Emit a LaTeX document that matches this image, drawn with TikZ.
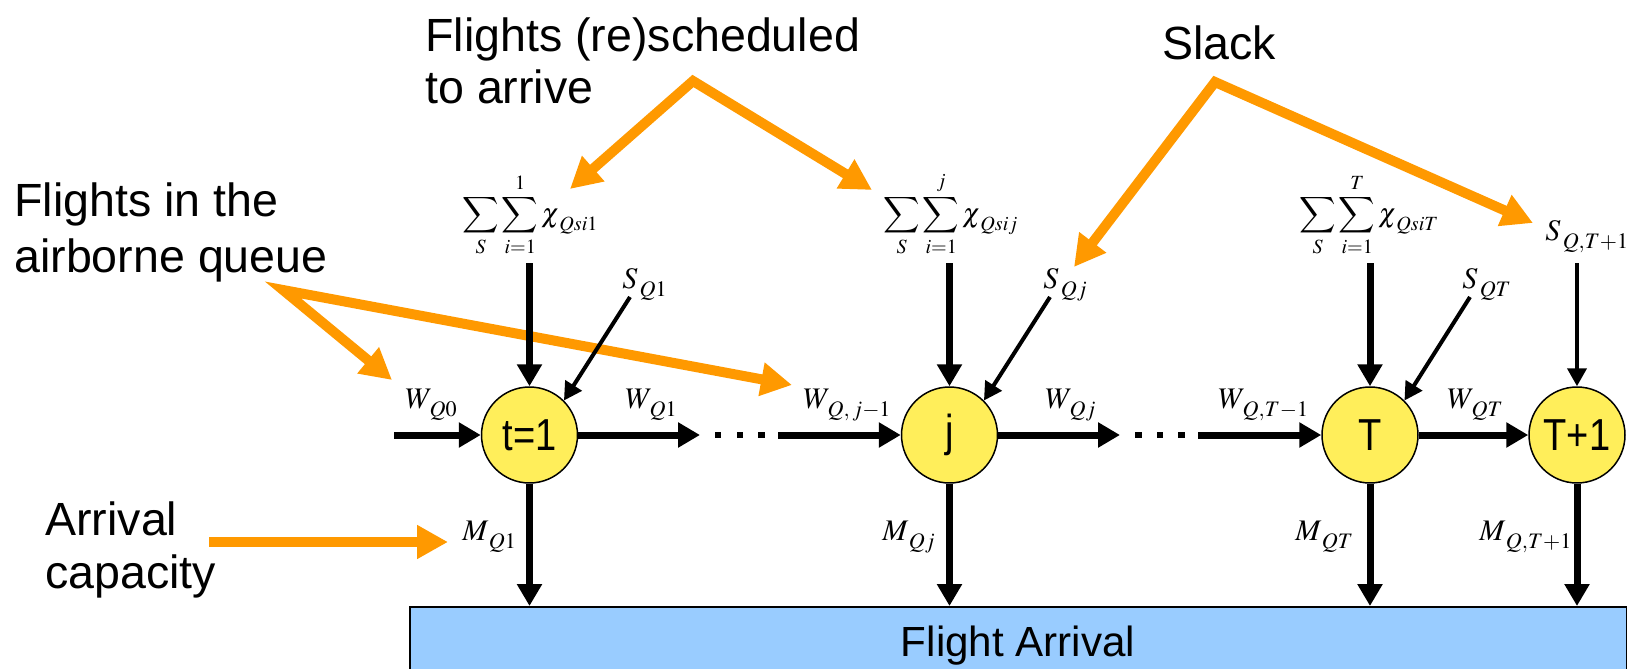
\documentclass[tikz,border=0pt]{standalone}
\usepackage{mathptmx}
\usepackage{exscale}
\usepackage[no-math]{fontspec}
\newfontfamily\arial{Liberation Sans}
\newfontfamily\arialn[FakeStretch=0.85]{Liberation Sans}
\usetikzlibrary{arrows.meta,calc}
\definecolor{orng}{HTML}{FF9900}
\definecolor{ylw}{HTML}{FFEE5A}
\definecolor{lblue}{HTML}{99CCFF}
\newcommand\lsb[1]{_{\mkern2mu\raisebox{-2.5pt}{$\scriptstyle #1$}}}
\begin{document}
\begin{tikzpicture}[x=0.02cm,y=-0.02cm,
  lbl/.style={font=\arial\fontsize{26.5}{30}\selectfont, inner sep=0pt, align=left, anchor=base west},
  mth/.style={font=\fontsize{17}{20}\selectfont, inner sep=0pt, anchor=base west},
  summ/.style={font=\fontsize{15.5}{18}\selectfont, inner sep=0pt, anchor=base west},
  period/.style={circle, draw=black, line width=0.03cm, fill=ylw, minimum size=1.92cm, inner sep=0pt, font=\arialn\fontsize{25.5}{30}\selectfont},
  fat/.style={line width=0.14cm, -{Triangle[length=0.44cm,width=0.48cm]}},
  slim/.style={line width=0.08cm, -{Triangle[length=0.36cm,width=0.38cm]}},
  orarrow/.style={orng, line width=0.2cm, -{Triangle[length=0.62cm,width=0.64cm]}},
  orboth/.style={orng, line width=0.2cm, line join=miter, {Triangle[length=0.62cm,width=0.64cm]}-{Triangle[length=0.62cm,width=0.64cm]}},
  dotsq/.style={fill=black},
  arrbox/.style={draw=black, line width=0.03cm, fill=lblue, anchor=north west, minimum width=24.34cm, minimum height=1.36cm, inner sep=0pt, text depth=0pt, font=\arial\fontsize{24}{28}\selectfont}
]
\useasboundingbox (0,0) rectangle (1627,669);
\clip (0,0) rectangle (1627,669);

% period nodes
\node[period] (c1) at (529.5,435) {t=1};
\node[period] (cj) at (949.5,435) {j};
\node[period] (cT) at (1370,435) {T};
\node[period] (cT1) at (1577,435) {T+1};

% flight arrival box
\node[arrbox] (box) at (409,606) {Flight Arrival};

% orange annotation arrows (drawn below black arrows)
\coordinate (ra) at (693,81);  \coordinate (rl) at (570,189); \coordinate (rr) at (872,190);
\coordinate (sa) at (1215,82); \coordinate (sl) at (1074,267); \coordinate (sr) at (1533,223);
\coordinate (qa) at (283,290); \coordinate (ql) at (392,380); \coordinate (qr) at (792,385);
\coordinate (ca) at (209,542); \coordinate (cb) at (448,542);
\draw[orboth] (rl) -- (ra) -- (rr);
\draw[orboth] (sl) -- (sa) -- (sr);
\draw[orboth] (ql) -- (qa) -- (qr);
\draw[orarrow] (ca) -- (cb);

% text labels (anchor = baseline of last line)
\node[lbl] (resched) at (425,104) {Flights (re)scheduled\\to arrive};
\node[lbl] (slack) at (1162,60) {Slack};
\node[lbl, font=\arial\fontsize{26.5}{31.5}\selectfont] (airq) at (14,272) {Flights in the\\airborne queue};
\node[lbl] (cap) at (45,588) {Arrival\\capacity};

% sums
\node[summ] (sum1) at (462,222) {$\displaystyle\sum_{S}\sum_{i=1}^{1}\chi\lsb{Qsi1}$};
\node[summ] (sumj) at (883,222) {$\displaystyle\sum_{S}\sum_{i=1}^{j}\chi\lsb{Qsij}$};
\node[summ] (sumT) at (1299,222) {$\displaystyle\sum_{S}\sum_{i=1}^{T}\chi\lsb{QsiT}$};

% slack labels
\node[mth] (s1) at (622,288) {$S\lsb{Q1}$};
\node[mth] (sj) at (1043,288) {$S\lsb{Qj}$};
\node[mth] (sT) at (1462,288) {$S\lsb{QT}$};
\node[mth] (sT1) at (1545,240) {$S\lsb{Q,T+1}$};

% queue labels
\node[mth] (w0) at (405,408) {$W\lsb{Q0}$};
\node[mth] (w1) at (625,408) {$W\lsb{Q1}$};
\node[mth] (wjm) at (803,408) {$W\lsb{Q,\,j-1}$};
\node[mth] (wj) at (1045,408) {$W\lsb{Qj}$};
\node[mth] (wTm) at (1218,408) {$W\lsb{Q,T-1}$};
\node[mth] (wT) at (1447,408) {$W\lsb{QT}$};

% capacity labels
\node[mth] (m1) at (462,540) {$M\lsb{Q1}$};
\node[mth] (mj) at (882,540) {$M\lsb{Qj}$};
\node[mth] (mT) at (1295,540) {$M\lsb{QT}$};
\node[mth] (mT1) at (1479,540) {$M\lsb{Q,T+1}$};

% free ends of connectors
\coordinate (in1) at (394,435);
\coordinate (out1) at (700,435);
\coordinate (in2) at (778,435);
\coordinate (out2) at (1120,435);
\coordinate (in3) at (1198,435);
\coordinate (v1) at (529.5,263);
\coordinate (vj) at (949.5,263);
\coordinate (vT) at (1370,263);
\coordinate (vT1) at (1577,263);
\coordinate (d1) at (630,297);
\coordinate (dj) at (1050,297);
\coordinate (dT) at (1470,297);

% horizontal flow
\draw[fat] (in1) -- (c1);
\draw[fat] (c1) -- (out1);
\draw[fat] (in2) -- (cj);
\draw[fat] (cj) -- (out2);
\draw[fat] (in3) -- (cT);
\draw[fat] (cT) -- (cT1);
\foreach \x in {718,740,761.5,1138.5,1160,1181.5}
  \fill[dotsq] (\x-3.2,431.8) rectangle (\x+3.2,438.2);

% scheduled arrivals
\draw[fat] (v1) -- (c1);
\draw[fat] (vj) -- (cj);
\draw[fat] (vT) -- (cT);

% slack
\draw[slim] (d1) -- (c1.45);
\draw[slim] (dj) -- (cj.45);
\draw[slim] (dT) -- (cT.45);
\draw[slim] (vT1) -- (cT1);

% arrivals
\draw[fat] (c1) -- (c1 |- box.north);
\draw[fat] (cj) -- (cj |- box.north);
\draw[fat] (cT) -- (cT |- box.north);
\draw[fat] (cT1) -- (cT1 |- box.north);
\end{tikzpicture}
\end{document}
